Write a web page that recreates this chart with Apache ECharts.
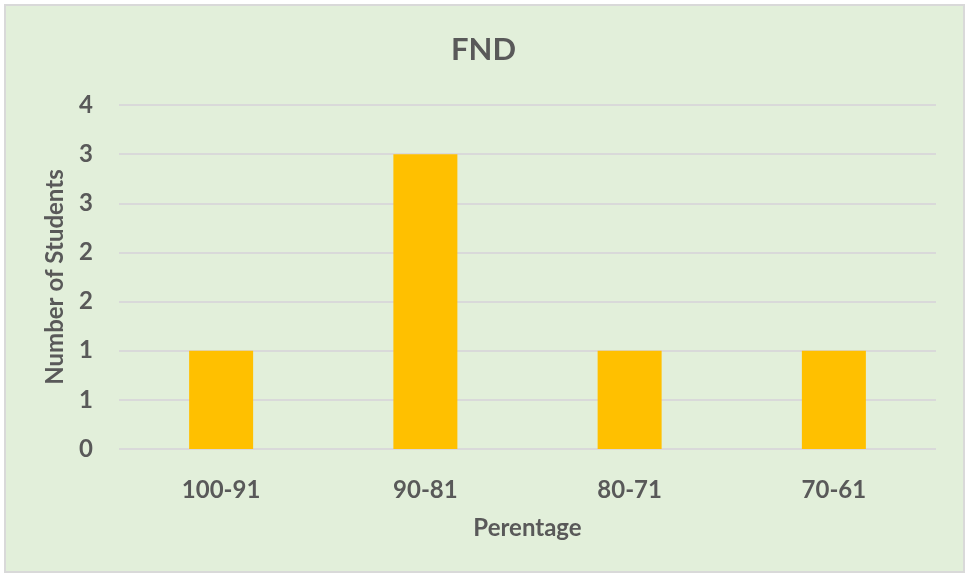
<!DOCTYPE html>
<html>
<head>
<meta charset="utf-8">
<title>FND</title>
<script src="https://cdn.jsdelivr.net/npm/echarts@6/dist/echarts.min.js"></script>
<style>
  html, body { margin: 0; padding: 0; background: #ffffff; }
  #chart { width: 967px; height: 576px; }
</style>
</head>
<body>
<div id="chart"></div>
<script>
// data
var categories = ['100-91', '90-81', '80-71', '70-61'];
var students = [1, 3, 1, 1];
// y ticks go 0..3.5 by 0.5, shown rounded (0,1,1,2,2,3,3,4)
var yMin = 0, yMax = 3.5, yStep = 0.5;

var txt = '#595959';
var font = 'Lato, "Open Sans", sans-serif';

var chart = echarts.init(document.getElementById('chart'));
chart.setOption({
  backgroundColor: '#ffffff',
  animation: false,
  textStyle: { fontFamily: font },
  graphic: [{
    type: 'rect', z: -10, silent: true,
    shape: { x: 5, y: 5, width: 959, height: 567 },
    style: { fill: '#E2EFDA', stroke: '#D9D9D9', lineWidth: 2 }
  }],
  title: {
    text: 'FND', left: 'center', top: 29,
    textStyle: { color: txt, fontSize: 31, fontWeight: 'bold', fontFamily: font }
  },
  grid: { left: 119, right: 31, top: 105, bottom: 127 },
  xAxis: {
    type: 'category', data: categories,
    name: 'Perentage', nameLocation: 'middle', nameGap: 67,
    nameTextStyle: { color: txt, fontSize: 24, fontWeight: 'bold', fontFamily: font },
    axisLine: { show: false }, axisTick: { show: false },
    axisLabel: { color: txt, fontSize: 24, fontWeight: 'bold', margin: 29, fontFamily: font }
  },
  yAxis: {
    type: 'value', min: yMin, max: yMax, interval: yStep,
    name: 'Number of Students', nameLocation: 'middle', nameGap: 52,
    nameTextStyle: { color: txt, fontSize: 24, fontWeight: 'bold', fontFamily: font },
    axisLabel: {
      color: txt, fontSize: 24, fontWeight: 'bold', margin: 26, fontFamily: font,
      formatter: function (v) { return String(Math.round(v)); }
    },
    splitLine: { lineStyle: { color: '#D9D9D9', width: 2 } }
  },
  series: [{
    type: 'bar', data: students, barWidth: 64,
    itemStyle: { color: '#FFC000' }
  }]
});
</script>
</body>
</html>
